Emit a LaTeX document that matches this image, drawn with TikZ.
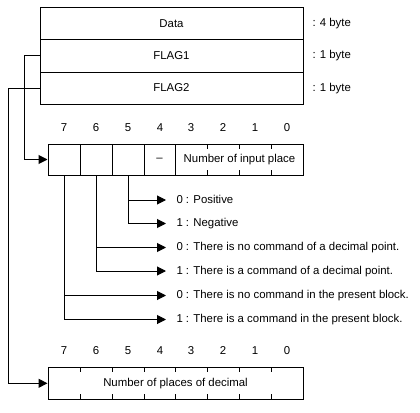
\documentclass[tikz,border=0pt]{standalone}
\usepackage{fontspec}
\setmainfont{Liberation Sans}
\usetikzlibrary{arrows.meta}
\begin{document}
\begin{tikzpicture}[x=1pt,y=-1pt,line width=1pt,
  every node/.style={font=\fontsize{11.4}{13}\selectfont},
  row/.style={draw,minimum width=263pt,minimum height=32pt,inner sep=0pt},
  cell/.style={draw,minimum width=32pt,minimum height=31pt,inner sep=0pt},
  lbl/.style={anchor=west,inner sep=0pt,text height=8pt,text depth=2pt},
  arr/.style={-{Triangle[length=9pt,width=9pt]}},
  tick/.style={line width=1pt}]
\useasboundingbox (0,0) rectangle (420,412);
% top structure
\node[row] (data)  at (171.5,24) {Data};
\node[row] (flag1) at (171.5,56) {FLAG1};
\node[row] (flag2) at (171.5,88) {FLAG2};
\node[lbl] (s1) at (312,24) {: 4 byte};
\node[lbl] (s2) at (312,56) {: 1 byte};
\node[lbl] (s3) at (312,88) {: 1 byte};
% bit numbers
\foreach \i/\x in {7/64,6/96,5/128,4/160,3/191,2/223,1/255,0/287}{
  \node (na\i) at (\x,128) {\i};
  \node (nb\i) at (\x,351) {\i};
}
% FLAG1 bits
\node[cell] (b7) at (64,159.5) {};
\node[cell] (b6) at (96,159.5) {};
\node[cell] (b5) at (128,159.5) {};
\node[cell,minimum width=31pt] (b4) at (159.5,159.5) {--};
\node[draw,minimum width=128pt,minimum height=31pt,inner sep=0pt] (blo) at (239.5,159.5) {Number of input place};
\foreach \x in {207.5,239.5,271.5}{
  \draw[tick] (\x,144) -- (\x,149);
  \draw[tick] (\x,170) -- (\x,175);
}
% FLAG2 bits
\node[draw,minimum width=255pt,minimum height=32pt,inner sep=0pt] (bx2) at (175.5,383.3) {Number of places of decimal};
\foreach \x in {80,112,144,175.5,207.5,239.5,271.5}{
  \draw[tick] (\x,367.3) -- (\x,372.3);
  \draw[tick] (\x,394.3) -- (\x,399.3);
}
% labels
\node[lbl] (t50) at (176,200) {0 : Positive};
\node[lbl] (t51) at (176,223.5) {1 : Negative};
\node[lbl] (t60) at (176,247.5) {0 : There is no command of a decimal point.};
\node[lbl] (t61) at (176,271) {1 : There is a command of a decimal point.};
\node[lbl] (t70) at (176,295.5) {0 : There is no command in the present block.};
\node[lbl] (t71) at (176,319.5) {1 : There is a command in the present block.};
% connectors
\coordinate (c1) at (24.5,100);
\coordinate (c2) at (8.5,200);
\draw[arr] (flag1.west) -| (c1) |- (b7.west);
\draw[arr] (flag2.west) -| (c2) |- (bx2.west);
\draw[arr,shorten >=10pt] (b5.south) |- (t50.west);
\draw[arr,shorten >=10pt] (b5.south) |- (t51.west);
\draw[arr,shorten >=10pt] (b6.south) |- (t60.west);
\draw[arr,shorten >=10pt] (b6.south) |- (t61.west);
\draw[arr,shorten >=10pt] (b7.south) |- (t70.west);
\draw[arr,shorten >=10pt] (b7.south) |- (t71.west);
\end{tikzpicture}
\end{document}
